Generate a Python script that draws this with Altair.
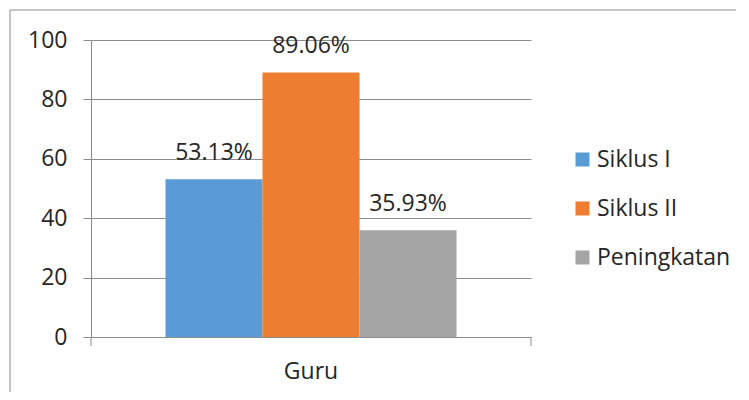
import altair as alt
import pandas as pd

categories = ["Guru", "Guru", "Guru"]
series = ["Siklus I", "Siklus II", "Peningkatan"]
values = [53.13, 89.06, 35.93]
labels = ["53.13%", "89.06%", "35.93%"]
colors = ["#5B9BD5", "#ED7D31", "#A5A5A5"]
y_ticks = [0, 20, 40, 60, 80, 100]

df = pd.DataFrame({"kategori": categories, "seri": series, "nilai": values, "label": labels})

FONT = "Open Sans"
TXT = "#262626"
GRID = "#8c8c8c"
FS = 23

base = alt.Chart(df).encode(
    x=alt.X(
        "kategori:N",
        title=None,
        scale=alt.Scale(paddingInner=0, paddingOuter=0.256),
        axis=alt.Axis(labelAngle=0, ticks=False, domainColor=GRID, labelFontSize=FS,
                      labelFont=FONT, labelColor=TXT, labelPadding=23, grid=False),
    ),
    xOffset=alt.XOffset("seri:N", sort=series, scale=alt.Scale(paddingInner=0, paddingOuter=0)),
)

bars = base.mark_bar().encode(
    y=alt.Y(
        "nilai:Q",
        title=None,
        scale=alt.Scale(domain=[0, 100], nice=False),
        axis=alt.Axis(values=y_ticks, domainColor=GRID, tickColor=GRID, tickSize=8,
                      gridColor=GRID, labelFontSize=FS, labelFont=FONT, labelColor=TXT,
                      labelPadding=16),
    ),
    color=alt.Color(
        "seri:N",
        sort=series,
        scale=alt.Scale(domain=series, range=colors),
        legend=alt.Legend(title=None, orient="none", legendX=480, legendY=108,
                          symbolType="square", symbolSize=196, symbolStrokeWidth=0,
                          labelFontSize=FS, labelFont=FONT, labelColor=TXT,
                          rowPadding=25, labelOffset=3),
    ),
)

text = base.mark_text(baseline="alphabetic", dy=-19, fontSize=FS, font=FONT, color=TXT).encode(
    y="nilai:Q", text="label:N"
)

one = alt.Data(values=[{"a": 1}])
border = alt.Chart(one).mark_rect(fillOpacity=0, stroke=GRID, strokeWidth=1).encode(
    x=alt.value(-81), x2=alt.value(800), y=alt.value(-30), y2=alt.value(500)
)
tick_l = alt.Chart(one).mark_rule(color=GRID).encode(
    x=alt.value(0), y=alt.value(297), y2=alt.value(306)
)
tick_r = alt.Chart(one).mark_rule(color=GRID).encode(
    x=alt.value(440), y=alt.value(297), y2=alt.value(306)
)

chart = alt.layer(border, bars, text, tick_l, tick_r).properties(
    width=440,
    height=297,
    autosize=alt.AutoSizeParams(type="none"),
    padding={"left": 83, "top": 32, "right": 205, "bottom": 55},
    background="white",
).configure_view(stroke=None)

chart.save("out.html", embed_options={"renderer": "svg", "actions": False})
